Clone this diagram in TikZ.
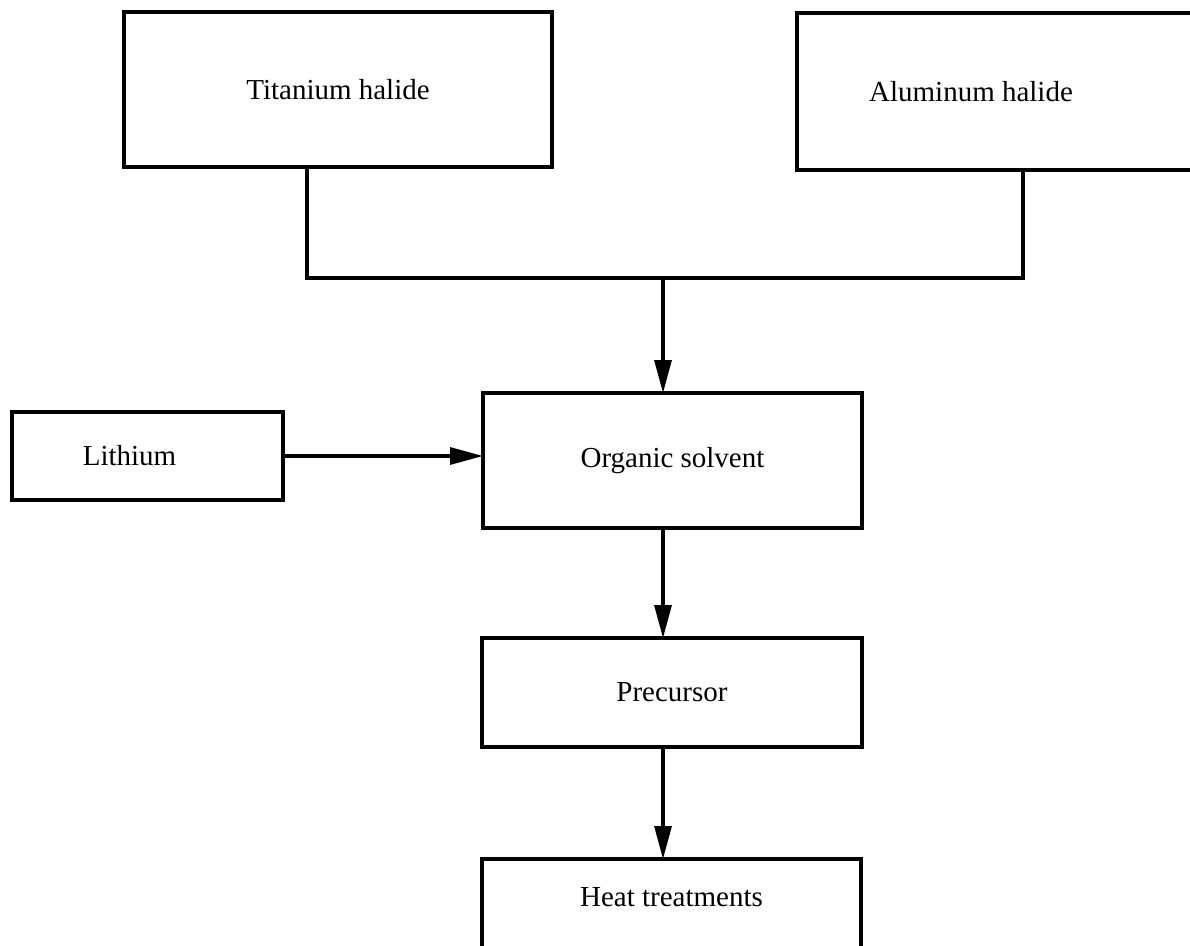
\documentclass[tikz,border=0pt]{standalone}
\usepackage{fontspec}
\setmainfont{Liberation Serif}
\usetikzlibrary{arrows.meta}

\begin{document}
\begin{tikzpicture}[x=0.02cm,y=-0.02cm,
    every node/.style={font=\fontsize{16.5}{20}\selectfont, outer sep=0pt},
    box/.style={draw, line width=1.9pt, inner sep=0pt},
    flow/.style={line width=1.8pt},
    feed/.style={line width=1.8pt, -{Triangle[length=0.66cm,width=0.34cm]}}]
    \useasboundingbox (0,0) rectangle (1190,946);

    \node[box, minimum width=8.56cm, minimum height=3.1cm] (ti) at (338,89.5) {Titanium halide};
    \node[box, minimum width=8.86cm, minimum height=3.14cm] (al) at (1018.5,91.5)
        {\hspace*{-1.9cm}Aluminum halide};
    \node[box, minimum width=5.42cm, minimum height=1.76cm] (li) at (147.5,456)
        {\hspace*{-0.72cm}Lithium};
    \node[box, minimum width=7.58cm, minimum height=2.7cm] (solv) at (672.5,460.5) {Organic solvent};
    \node[box, minimum width=7.6cm, minimum height=2.18cm] (prec) at (672,692.5) {Precursor};
    \node[box, anchor=north, minimum width=7.58cm, inner ysep=0.5cm,
        text height=0.46cm, text depth=2cm] (heat) at (671.5,859) {Heat treatments};

    % joining line of the two halides
    \coordinate (tj) at (307,278);
    \coordinate (aj) at (1023,278);
    \coordinate (j) at (663,278);
    \draw[flow] (ti.south -| tj) -- (tj) -- (aj) -- (al.south -| aj);

    \draw[feed] (j) -- (solv.north -| j);
    \draw[feed] (li.east) -- (li.east -| solv.west);
    \draw[feed] (solv.south -| j) -- (prec.north -| j);
    \draw[feed] (prec.south -| j) -- (heat.north -| j);

\end{tikzpicture}
\end{document}
